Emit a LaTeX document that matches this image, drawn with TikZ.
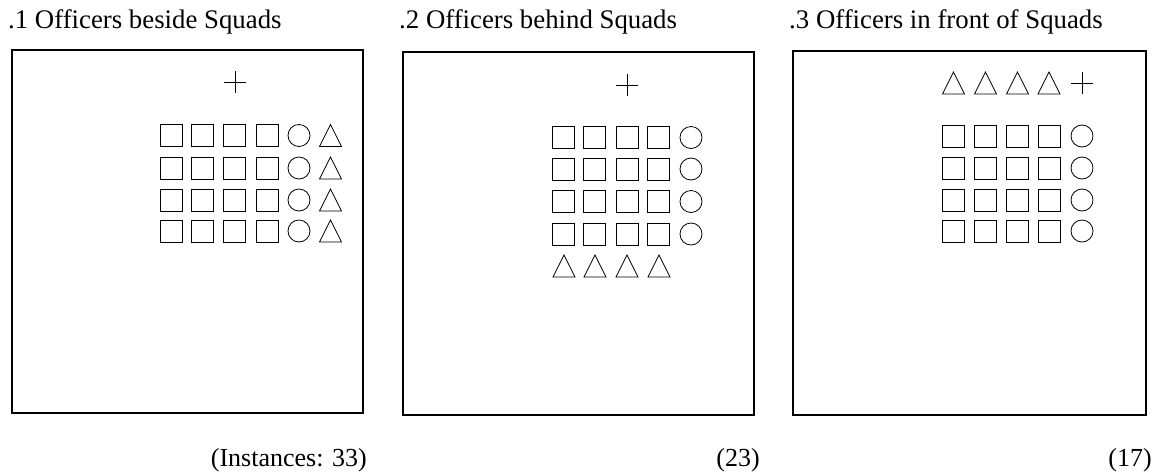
\documentclass[tikz,border=0pt]{standalone}
\usepackage{fontspec}
\setmainfont{Liberation Serif}
\usetikzlibrary{calc}
\begin{document}
\begin{tikzpicture}[x=1pt,y=-1pt,
  panel/.style={draw,line width=1.3pt},
  sq/.style={draw,line width=0.8pt,minimum size=22pt,inner sep=0pt,shape=rectangle},
  ci/.style={draw,line width=0.8pt,minimum size=22pt,inner sep=0pt,shape=circle},
  officer/.style={line width=0.8pt,line join=miter},
  cross/.style={line width=0.8pt},
  title/.style={anchor=base west,inner sep=0pt,font=\fontsize{26.8}{30}\selectfont},
  caption/.style={anchor=base east,inner sep=0pt,font=\fontsize{26}{30}\selectfont}]
\useasboundingbox (0,0) rectangle (1165,475);
% triangle marker (officer) centred at #1
\newcommand{\tri}[2]{\coordinate (#2) at (#1); \draw[officer] ($(#2)+(-11,11)$) -- ($(#2)+(11,11)$) -- ($(#2)+(0,-11)$) -- cycle;}
\newcommand{\plus}[2]{\coordinate (#2) at (#1); \draw[cross] ($(#2)+(-11,0)$) -- ($(#2)+(11,0)$) ($(#2)+(0,-11)$) -- ($(#2)+(0,11)$);}

% ---- panel 1 ----
\node[title] (t1) at (8,28.5) {.1 Officers beside Squads};
\draw[panel] (12,50) rectangle (363,413);
\node[caption] (c1) at (367,466) {(Instances: 33)};
\plus{235,82}{p1}
\foreach \r/\y in {1/135.5,2/168,3/200,4/231}{
  \foreach \c/\x in {1/171,2/202.5,3/234.5,4/267}{
    \node[sq] (a\r\c) at (\x,\y) {};}
  \node[ci] (a\r5) at (299,\y) {};
  \tri{330.5,\y}{a\r6}
}

% ---- panel 2 ----
\node[title] (t2) at (399,28.5) {.2 Officers behind Squads};
\draw[panel] (403,52) rectangle (754,415);
\node[caption] (c2) at (760,466) {(23)};
\plus{627,85}{p2}
\foreach \r/\y in {1/137.5,2/169,3/201.5,4/234}{
  \foreach \c/\x in {1/563,2/594.5,3/627,4/658.5}{
    \node[sq] (b\r\c) at (\x,\y) {};}
  \node[ci] (b\r5) at (691,\y) {};
}
\foreach \c/\x in {1/564,2/595,3/627,4/659}{
  \tri{\x,266}{bt\c}
}

% ---- panel 3 ----
\node[title] (t3) at (789,28.5) {.3 Officers in front of Squads};
\draw[panel] (793,51) rectangle (1146,415);
\node[caption] (c3) at (1152,466) {(17)};
\foreach \c/\x in {1/953.5,2/985.5,3/1017.5,4/1049}{
  \tri{\x,83}{ct\c}
}
\plus{1082,83}{p3}
\foreach \r/\y in {1/136,2/168,3/200,4/231}{
  \foreach \c/\x in {1/953.5,2/985.5,3/1017.5,4/1049}{
    \node[sq] (c\r\c) at (\x,\y) {};}
  \node[ci] (c\r5) at (1082,\y) {};
}
\end{tikzpicture}
\end{document}
